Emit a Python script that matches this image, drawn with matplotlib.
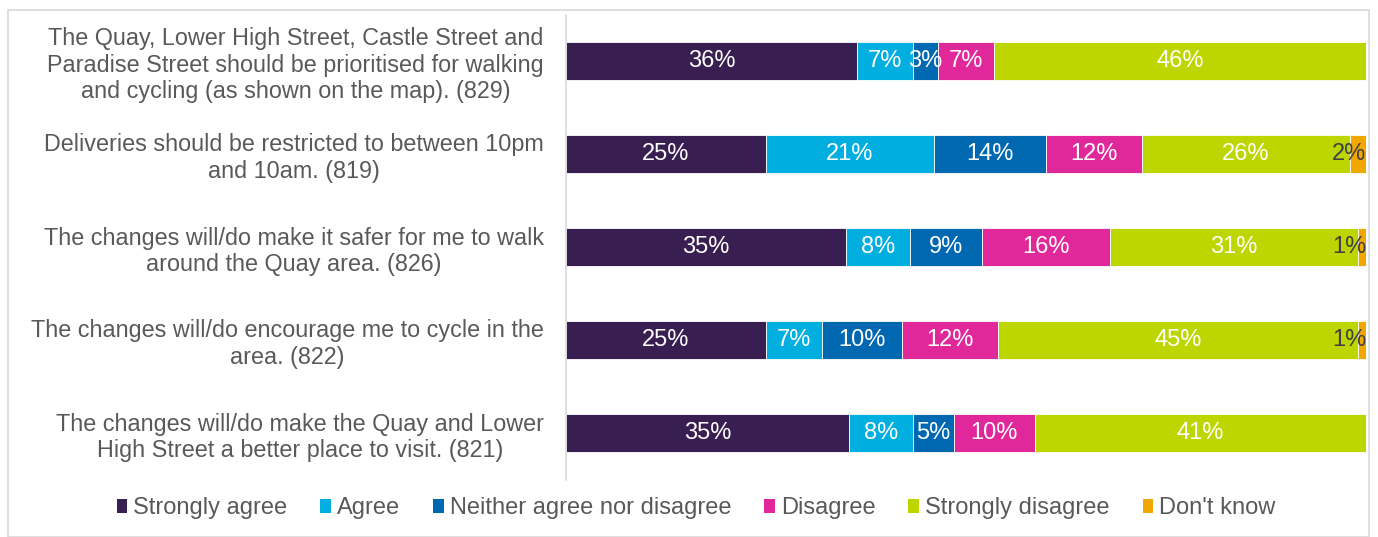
import matplotlib
matplotlib.use("Agg")
import matplotlib.pyplot as plt
from matplotlib.patches import Rectangle, Patch
import numpy as np

plt.rcParams['font.family'] = ['Liberation Sans', 'DejaVu Sans']

categories = [
    "The Quay, Lower High Street, Castle Street and\nParadise Street should be prioritised for walking\nand cycling (as shown on the map). (829)",
    "Deliveries should be restricted to between 10pm\nand 10am. (819)",
    "The changes will/do make it safer for me to walk\naround the Quay area. (826)",
    "The changes will/do encourage me to cycle in the\narea. (822)",
    "The changes will/do make the Quay and Lower\nHigh Street a better place to visit. (821)",
]
series_names = ["Strongly agree", "Agree", "Neither agree nor disagree",
                "Disagree", "Strongly disagree", "Don't know"]
strongly_agree = [36, 25, 35, 25, 35]
agree = [7, 21, 8, 7, 8]
neither = [3, 14, 9, 10, 5]
disagree = [7, 12, 16, 12, 10]
strongly_disagree = [46, 26, 31, 45, 41]
dont_know = [0, 2, 1, 1, 0]

colors = ["#381E51", "#00AEDF", "#0068B0", "#E0289B", "#BED600", "#F0A800"]
label_colors = ["white", "white", "white", "white", "white", "#404040"]

data = np.array([strongly_agree, agree, neither, disagree, strongly_disagree, dont_know], dtype=float)
totals = data.sum(axis=0)
shares = data / totals * 100

fig = plt.figure(figsize=(13.78, 5.37), dpi=100)
fig.patches.append(Rectangle((8/1378, 0), (1369-8)/1378, 1 - 10/537, transform=fig.transFigure,
                             fill=False, edgecolor="#D9D9D9", linewidth=1.2))
ax = fig.add_axes([566/1378, 1 - 479.5/537, 800/1378, (479.5 - 14.5)/537])

y = np.arange(len(categories))
left = np.zeros(len(categories))
for i, name in enumerate(series_names):
    ax.barh(y, shares[i], left=left, height=0.4, color=colors[i], edgecolor="white",
            linewidth=0.6, label=name)
    for j in range(len(categories)):
        if data[i, j] > 0:
            if i == len(series_names) - 1:
                ax.text(100, y[j], f"{int(data[i, j])}%", ha="right", va="center",
                        color=label_colors[i], fontsize=17)
            else:
                ax.text(left[j] + shares[i, j] / 2, y[j], f"{int(data[i, j])}%",
                        ha="center", va="center", color=label_colors[i], fontsize=17)
    left += shares[i]

ax.set_xlim(0, 100)
ax.set_ylim(len(categories) - 0.5, -0.5)
ax.set_yticks(y)
ax.set_yticklabels(categories, fontsize=16.8, color="#595959", multialignment="center")
ax.tick_params(axis="y", length=0, pad=16)
ax.set_xticks([])
for s in ["top", "right", "bottom"]:
    ax.spines[s].set_visible(False)
ax.spines["left"].set_color("#D9D9D9")
ax.spines["left"].set_linewidth(1.2)

handles = [Patch(facecolor=c, edgecolor="none") for c in colors]
leg = fig.legend(handles, series_names, loc="center", bbox_to_anchor=(696/1378, 1 - 508/537),
                 ncol=6, frameon=False, fontsize=17, handlelength=0.45, handleheight=0.55,
                 handletextpad=0.25, columnspacing=1.4, labelcolor="#595959")

fig.savefig("out.png", dpi=100)
